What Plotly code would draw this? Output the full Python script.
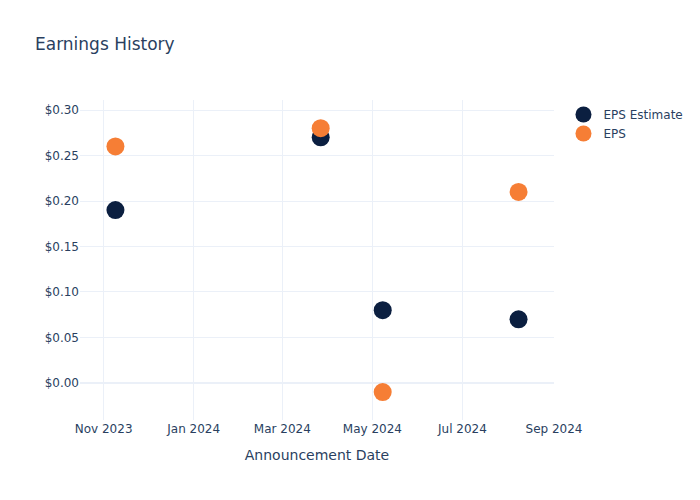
import plotly.graph_objects as go

dates = ["2023-11-09", "2024-03-27", "2024-05-08", "2024-08-08"]
eps_estimate = [0.19, 0.27, 0.08, 0.07]
eps_actual = [0.26, 0.28, -0.01, 0.21]

fig = go.Figure()
fig.add_trace(go.Scatter(x=dates, y=eps_estimate, mode="markers", name="EPS Estimate",
                         marker=dict(color="#0b1f40", size=18)))
fig.add_trace(go.Scatter(x=dates, y=eps_actual, mode="markers", name="EPS",
                         marker=dict(color="#f67e35", size=18)))
fig.update_layout(
    template="plotly_white",
    width=700, height=500,
    font=dict(family="DejaVu Sans"),
    title=dict(text="Earnings History"),
    xaxis=dict(title=dict(text="Announcement Date"), tickformat="%b %Y", dtick="M2",
               range=["2023-10-16", "2024-09-01"]),
    yaxis=dict(tickprefix="$", tickformat=".2f", range=[-0.0407, 0.311]),
)
fig.write_html("out.html")
